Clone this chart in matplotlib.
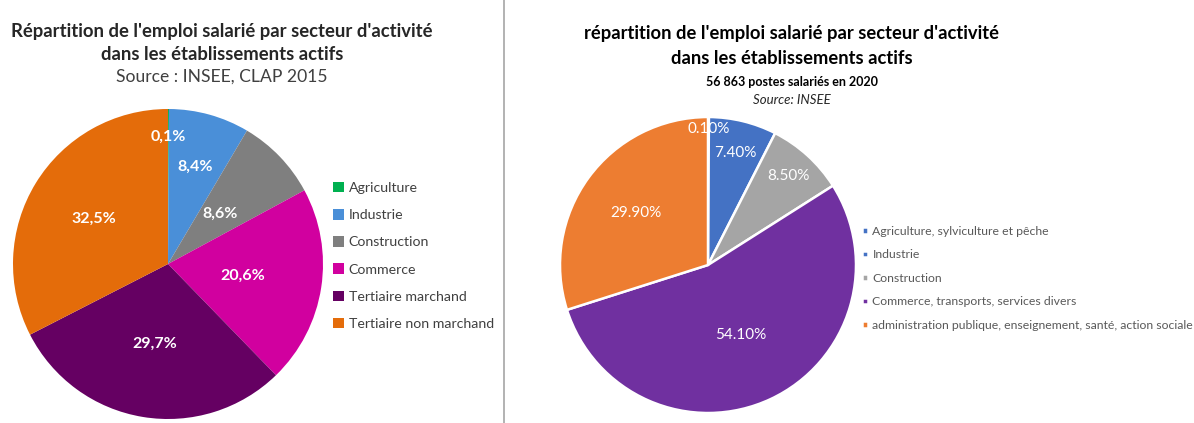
import numpy as np
import matplotlib.pyplot as plt
from matplotlib.lines import Line2D

plt.rcParams['font.family'] = ['Lato', 'DejaVu Sans']

# left chart: CLAP 2015
sect_2015 = ["Agriculture", "Industrie", "Construction", "Commerce",
             "Tertiaire marchand", "Tertiaire non marchand"]
val_2015 = [0.1, 8.4, 8.6, 20.6, 29.7, 32.5]
lab_2015 = ["0,1%", "8,4%", "8,6%", "20,6%", "29,7%", "32,5%"]

# right chart: 2020
sect_2020 = ["Agriculture, sylviculture et pêche", "Industrie", "Construction",
             "Commerce, transports, services divers",
             "administration publique, enseignement, santé, action sociale"]
val_2020 = [0.1, 7.4, 8.5, 54.1, 29.9]
lab_2020 = ["0.10%", "7.40%", "8.50%", "54.10%", "29.90%"]

col_2015 = ["#00b050", "#4a8fd8", "#7f7f7f", "#d1009f", "#650062", "#e46c0a"]
col_2020 = ["#4472c4", "#4472c4", "#a5a5a5", "#7030a0", "#ed7d31"]

# radial position of the value labels (fraction of radius)
rad_2015 = [0.82, 0.65, 0.47, 0.49, 0.52, 0.56]
rad_2020 = [0.92, 0.78, 0.81, 0.52, 0.60]

W, H = 1194, 423
fig = plt.figure(figsize=(W / 100, H / 100), dpi=100)


def px_axes(cx, cy, r):
    return fig.add_axes([(cx - r) / W, (H - cy - r) / H, 2 * r / W, 2 * r / H])


def put_labels(ax, wedges, labels, radii, **kw):
    for w, t, rr in zip(wedges, labels, radii):
        a = np.deg2rad((w.theta1 + w.theta2) / 2)
        ax.text(rr * np.cos(a), rr * np.sin(a), t, ha='center', va='center', **kw)


# ---- left pie
ax1 = px_axes(168, 264, 155)
w1, _ = ax1.pie(val_2015, colors=col_2015, startangle=90, counterclock=False,
                radius=1, wedgeprops=dict(linewidth=0))
ax1.set_xlim(-1, 1)
ax1.set_ylim(-1, 1)
put_labels(ax1, w1, lab_2015, rad_2015, color='white', fontsize=11.5, fontweight='bold')

fig.text(222 / W, 1 - 31 / H, "Répartition de l'emploi salarié par secteur d'activité",
         ha='center', va='center', fontsize=13.3, fontweight='bold', color='#262626')
fig.text(222 / W, 1 - 54 / H, "dans les établissements actifs",
         ha='center', va='center', fontsize=13.3, fontweight='bold', color='#262626')
fig.text(222 / W, 1 - 77 / H, "Source : INSEE, CLAP 2015",
         ha='center', va='center', fontsize=12.6, color='#404040')

fig.legend(w1, sect_2015, loc='upper left', bbox_to_anchor=(333 / W, 1 - 182 / H),
           frameon=False, fontsize=10.2, handlelength=0.75, handleheight=0.75,
           handletextpad=0.35, labelspacing=1.06, labelcolor='#404040',
           borderaxespad=0, borderpad=0)

# ---- separator
fig.add_artist(Line2D([504 / W, 504 / W], [0, 1], color='#a6a6a6', lw=1.2))

# ---- right pie
ax2 = px_axes(708, 265, 148)
w2, _ = ax2.pie(val_2020, colors=col_2020, startangle=90, counterclock=False,
                radius=1, wedgeprops=dict(linewidth=1.8, edgecolor='white'))
ax2.set_xlim(-1, 1)
ax2.set_ylim(-1, 1)
put_labels(ax2, w2, lab_2020, rad_2020, color='white', fontsize=11)

fig.text(792 / W, 1 - 33 / H, "répartition de l'emploi salarié par secteur d'activité",
         ha='center', va='center', fontsize=13.2, fontweight='bold', color='black')
fig.text(792 / W, 1 - 58 / H, "dans les établissements actifs",
         ha='center', va='center', fontsize=13.2, fontweight='bold', color='black')
fig.text(792 / W, 1 - 82 / H, "56 863 postes salariés en 2020",
         ha='center', va='center', fontsize=9, fontweight='bold', color='black')
fig.text(792 / W, 1 - 100 / H, "Source: INSEE",
         ha='center', va='center', fontsize=9.5, style='italic', color='#262626')

fig.legend(w2, sect_2020, loc='upper left', bbox_to_anchor=(862 / W, 1 - 226 / H),
           frameon=False, fontsize=8.8, handlelength=0.45, handleheight=0.45,
           handletextpad=0.4, labelspacing=1.02, labelcolor='#595959',
           borderaxespad=0, borderpad=0)

fig.savefig("out.png", dpi=100, facecolor='white')
